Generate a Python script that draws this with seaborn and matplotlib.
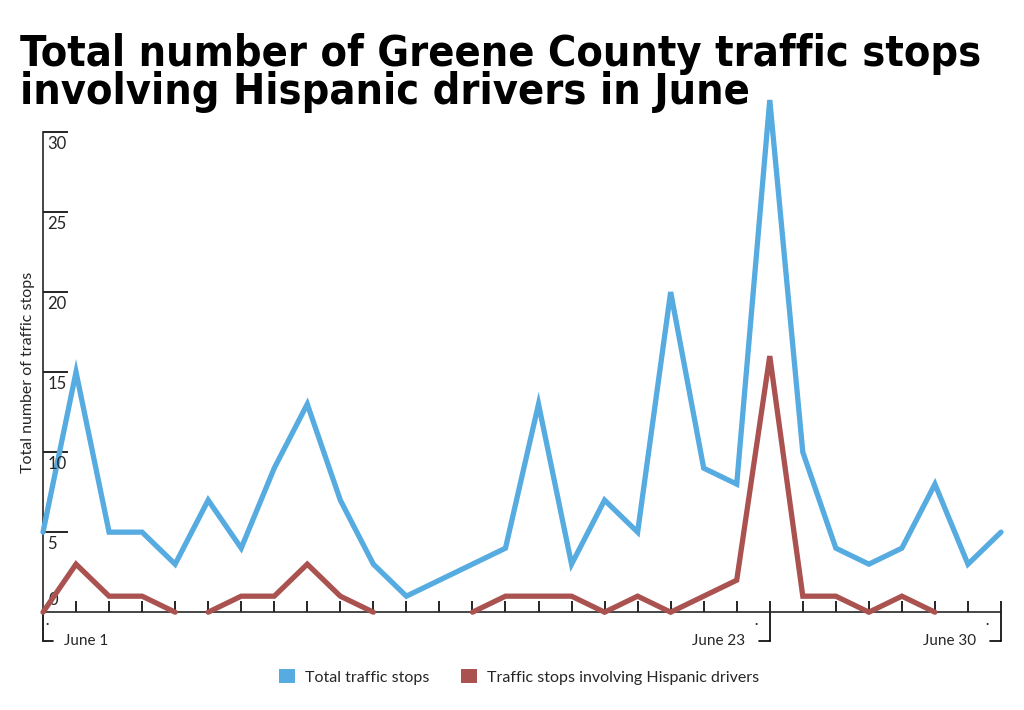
import numpy as np
import pandas as pd
import matplotlib
matplotlib.use("Agg")
import matplotlib.pyplot as plt
from matplotlib.patches import Patch
import seaborn as sns

# June 1 .. June 30
days = list(range(30))
total_stops = [5, 15, 5, 5, 3, 7, 4, 9, 13, 7, 3, 1, 2, 3, 4,
               13, 3, 7, 5, 20, 9, 8, 32, 10, 4, 3, 4, 8, 3, 5]
hispanic_stops = [0, 3, 1, 1, 0, 0, 1, 1, 3, 1, 0, None, None, 0, 1,
                  1, 1, 0, 1, 0, 1, 2, 16, 1, 1, 0, 1, 0, None, None]
# the red line is broken into separate runs in the original
hispanic_run = [0, 0, 0, 0, 0, 1, 1, 1, 1, 1, 1, None, None, 2, 2,
                2, 2, 2, 2, 2, 2, 2, 2, 2, 2, 2, 2, 2, None, None]
y_ticks = [5, 10, 15, 20, 25, 30]
date_marks = {0: "June 1", 22: "June 23", 29: "June 30"}

BLUE = "#56abe0"
RED = "#a9524f"

sns.set_style("white")
plt.rcParams["font.family"] = ["Lato", "DejaVu Sans"]

df_total = pd.DataFrame({"day": days, "stops": total_stops})
df_hisp = pd.DataFrame({"day": days, "stops": hispanic_stops, "run": hispanic_run}).dropna()

fig = plt.figure(figsize=(10.24, 7.1), dpi=100)
ax = fig.add_axes([43 / 1024, 69 / 710, 958 / 1024, 509 / 710])

sns.lineplot(data=df_total, x="day", y="stops", color=BLUE, lw=3.8, ax=ax,
             clip_on=False, solid_joinstyle="miter", zorder=3)
sns.lineplot(data=df_hisp, x="day", y="stops", units="run", estimator=None,
             color=RED, lw=3.8, ax=ax, clip_on=False, solid_joinstyle="miter",
             zorder=4)

ax.set_xlim(0, 29)
ax.set_ylim(-1.8, 30)
ax.set_xlabel("")
ax.set_ylabel("Total number of traffic stops", fontsize=11.5)
ax.yaxis.set_label_coords(-0.008, 0.528)

for s in ["top", "right"]:
    ax.spines[s].set_visible(False)
ax.spines["bottom"].set_position(("data", 0))
ax.spines["bottom"].set_linewidth(1.2)
ax.spines["left"].set_linewidth(1.2)
ax.spines["bottom"].set_zorder(2)

ax.set_yticks(y_ticks)
ax.set_yticklabels([])
ax.tick_params(axis="y", direction="in", length=18, width=1.2, color="black", left=True)
ax.set_xticks(days[1:])
ax.set_xticklabels([])
ax.tick_params(axis="x", direction="in", length=8, width=1.2, color="black", bottom=True)

# y labels sit inside, under each tick
for v in y_ticks:
    ax.annotate(str(v), (0, v), xytext=(3, -3), textcoords="offset points",
                ha="left", va="top", fontsize=12)
ax.annotate("0", (0, 0), xytext=(4, 3), textcoords="offset points",
            ha="left", va="bottom", fontsize=12)

# date brackets under the axis
for d, lab in date_marks.items():
    ax.plot([d, d], [0, -1.8], color="black", lw=1.2, clip_on=False)
    if d == 0:
        ax.plot([d, d + 0.3], [-1.8, -1.8], color="black", lw=1.2, clip_on=False)
        ax.annotate(lab, (d, -1.8), xytext=(15, 0), textcoords="offset points",
                    ha="left", va="center", fontsize=11)
        ax.annotate(".", (d, 0), xytext=(3, -2), textcoords="offset points",
                    ha="center", va="top", fontsize=10, fontweight="bold")
    else:
        ax.plot([d - 0.33, d], [-1.8, -1.8], color="black", lw=1.2, clip_on=False)
        ax.annotate(lab, (d, -1.8), xytext=(-18, 0), textcoords="offset points",
                    ha="right", va="center", fontsize=11)
        ax.annotate(".", (d, 0), xytext=(-10, -2), textcoords="offset points",
                    ha="center", va="top", fontsize=10, fontweight="bold")

title_font = dict(fontsize=31, fontweight="heavy", fontstretch="condensed",
                  family=["DejaVu Sans"], color="black", ha="left", va="baseline")
fig.text(20 / 1024, 1 - 66 / 710, "Total number of Greene County traffic stops", **title_font)
fig.text(20 / 1024, 1 - 104 / 710, "involving Hispanic drivers in June", **title_font)

handles = [Patch(facecolor=BLUE, edgecolor="none"), Patch(facecolor=RED, edgecolor="none")]
fig.legend(handles, ["Total traffic stops", "Traffic stops involving Hispanic drivers"],
           loc="center", bbox_to_anchor=(0.507, 1 - 677 / 710), ncol=2, frameon=False,
           fontsize=11.5, handlelength=1.0, handleheight=1.0, handletextpad=0.6,
           columnspacing=2.0)

fig.savefig("out.png", dpi=100)
